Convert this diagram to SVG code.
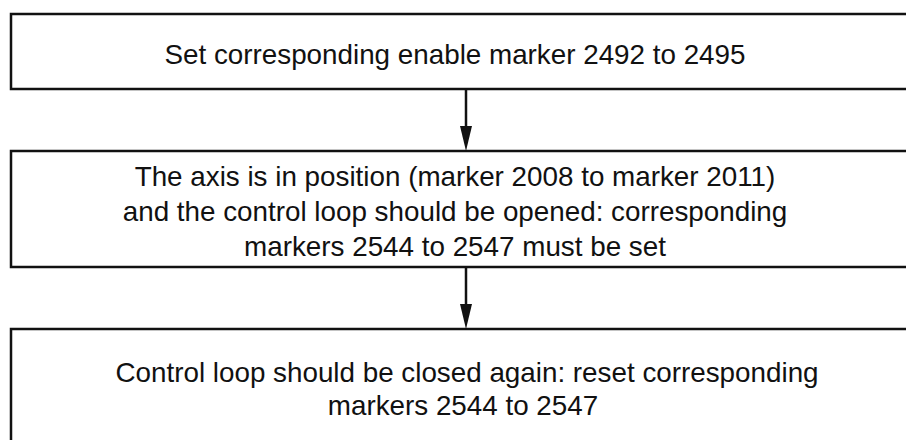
<svg xmlns="http://www.w3.org/2000/svg" width="906" height="440" viewBox="0 0 906 440">
<style>
.box{fill:#fff;stroke:#111;stroke-width:2.5}
.t{font-family:"Liberation Sans",Arial,sans-serif;font-size:27.8px;fill:#111;text-anchor:middle}
.c{stroke:#111;stroke-width:2.5;fill:none}
.ah{fill:#111;stroke:none}
</style>
<rect width="906" height="440" fill="#fff"/>
<g id="node1">
<rect class="box" x="11" y="14" width="920" height="75"/>
<text class="t" x="455" y="64">Set corresponding enable marker 2492 to 2495</text>
</g>
<g id="node2">
<rect class="box" x="11" y="151" width="920" height="116"/>
<text class="t" x="455" y="186">The axis is in position (marker 2008 to marker 2011)</text>
<text class="t" x="455" y="221">and the control loop should be opened: corresponding</text>
<text class="t" x="455" y="256">markers 2544 to 2547 must be set</text>
</g>
<g id="node3">
<rect class="box" x="11" y="329" width="920" height="130"/>
<text class="t" x="467" y="382">Control loop should be closed again: reset corresponding</text>
<text class="t" x="463" y="415">markers 2544 to 2547</text>
</g>
<g id="connectors">
<line class="c" x1="466" y1="89" x2="466" y2="128"/>
<polygon class="ah" points="460,126 472,126 466,151"/>
<line class="c" x1="466" y1="267" x2="466" y2="306"/>
<polygon class="ah" points="460,304 472,304 466,329"/>
</g>
</svg>
